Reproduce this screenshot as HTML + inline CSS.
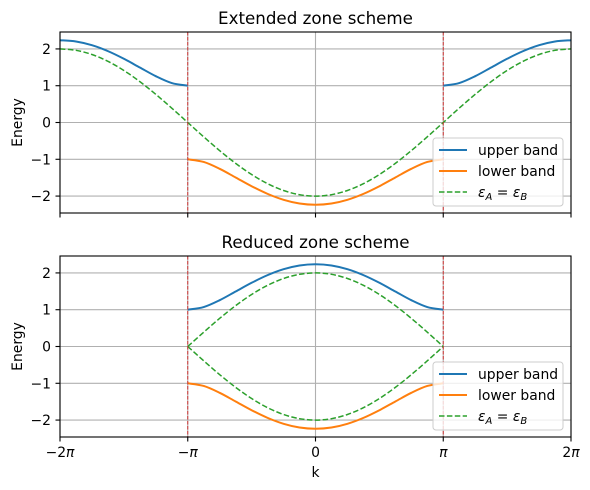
<!DOCTYPE html>
<html><head><meta charset="utf-8">
<style>
html,body{margin:0;padding:0;background:#fff;}
svg{display:block;font-family:"DejaVu Sans","Liberation Sans",sans-serif;}
</style></head>
<body>
<svg id="chart" width="590" height="490" viewBox="0 0 590 490"></svg>
<script>
// k positions in units of pi/8, from -2pi to 2pi
const kSteps = [-16,-15,-14,-13,-12,-11,-10,-9,-8,-7,-6,-5,-4,-3,-2,-1,0,1,2,3,4,5,6,7,8,9,10,11,12,13,14,15,16];
// |E| of the bands
const bandMag = [2.236,2.202,2.101,1.940,1.732,1.495,1.259,1.073,1.000,1.073,1.259,1.495,1.732,1.940,2.101,2.202,2.236,2.202,2.101,1.940,1.732,1.495,1.259,1.073,1.000,1.073,1.259,1.495,1.732,1.940,2.101,2.202,2.236];
// eps_A = eps_B dashed curve
const degenerate = [2,1.962,1.848,1.663,1.414,1.111,0.765,0.390,0,-0.390,-0.765,-1.111,-1.414,-1.663,-1.848,-1.962,-2,-1.962,-1.848,-1.663,-1.414,-1.111,-0.765,-0.390,0,0.390,0.765,1.111,1.414,1.663,1.848,1.962,2];
const yTicks = [-2,-1,0,1,2];
const xTickLabels = ["\u22122\u03c0","\u2212\u03c0","0","\u03c0","2\u03c0"];
const xTickVals = [-16,-8,0,8,16];

const NS="http://www.w3.org/2000/svg";
const svg=document.getElementById('chart');
function mk(tag,attrs,parent){const e=document.createElementNS(NS,tag);for(const k in attrs)e.setAttribute(k,attrs[k]);(parent||svg).appendChild(e);return e;}

const X0=60,X1=571,YMAX=2.46;
function xs(k){return X0+(k+16)/32*(X1-X0);}
function makeY(top,bottom){return v=>top+(YMAX-v)/(2*YMAX)*(bottom-top);}

function smoothPath(pts){
  let d="M"+pts[0][0].toFixed(2)+","+pts[0][1].toFixed(2);
  for(let i=0;i<pts.length-1;i++){
    const p0=pts[i-1]||pts[i],p1=pts[i],p2=pts[i+1],p3=pts[i+2]||pts[i+1];
    const c1=[p1[0]+(p2[0]-p0[0])/6,p1[1]+(p2[1]-p0[1])/6];
    const c2=[p2[0]-(p3[0]-p1[0])/6,p2[1]-(p3[1]-p1[1])/6];
    d+="C"+c1[0].toFixed(2)+","+c1[1].toFixed(2)+" "+c2[0].toFixed(2)+","+c2[1].toFixed(2)+" "+p2[0].toFixed(2)+","+p2[1].toFixed(2);
  }
  return d;
}
function series(g,ys,lo,hi,sign,vals,style,name){
  const pts=[];
  for(let i=0;i<kSteps.length;i++){if(kSteps[i]>=lo&&kSteps[i]<=hi)pts.push([xs(kSteps[i]),ys(sign*vals[i])]);}
  const p=mk('path',Object.assign({d:smoothPath(pts),fill:'none'},style),g);
  
  
}

const BLUE={stroke:'#1f77b4','stroke-width':2};
const ORANGE={stroke:'#ff7f0e','stroke-width':2};
const GREEN={stroke:'#2ca02c','stroke-width':1.5,'stroke-dasharray':'5.5,2.4'};

function panel(top,bottom,title,reduced,showXLabels,prefix){
  const g=mk('g',{});
  
  
  const ys=makeY(top,bottom);
  const clip=mk('clipPath',{id:prefix+'clip'},g);
  mk('rect',{x:X0,y:top,width:X1-X0,height:bottom-top},clip);
  yTicks.forEach(v=>{const l=mk('line',{x1:X0,x2:X1,y1:ys(v),y2:ys(v),stroke:'#b0b0b0','stroke-width':1.1},g);
    
    });
  xTickVals.forEach(k=>{const l=mk('line',{x1:xs(k),x2:xs(k),y1:top,y2:bottom,stroke:'#b0b0b0','stroke-width':1.1},g);
    
    });
  const cg=mk('g',{'clip-path':'url(#'+prefix+'clip)'},g);
  if(!reduced){
    series(cg,ys,-16,-8,1,bandMag,BLUE,'upper-band-left');
    series(cg,ys,8,16,1,bandMag,BLUE,'upper-band-right');
    series(cg,ys,-8,8,-1,bandMag,ORANGE,'lower-band');
    series(cg,ys,-16,16,1,degenerate,GREEN,'degenerate-curve');
  } else {
    series(cg,ys,-8,8,1,bandMag,BLUE,'upper-band');
    series(cg,ys,-8,8,-1,bandMag,ORANGE,'lower-band');
    series(cg,ys,-8,8,1,degenerate,GREEN,'degenerate-curve-lower');
    series(cg,ys,-8,8,-1,degenerate,GREEN,'degenerate-curve-upper');
  }
  [-8,8].forEach(k=>{const l=mk('line',{x1:xs(k),x2:xs(k),y1:top,y2:bottom,stroke:'#d62020','stroke-width':1,'stroke-dasharray':'3.5,1.5','stroke-opacity':0.85},g);
    
    });
  const fr=mk('rect',{x:X0,y:top,width:X1-X0,height:bottom-top,fill:'none',stroke:'#000','stroke-width':1.1},g);
  
  
  yTicks.forEach(v=>{mk('line',{x1:X0-4.5,x2:X0,y1:ys(v),y2:ys(v),stroke:'#000','stroke-width':1.1},g);
    const t=mk('text',{x:X0-9,y:ys(v)+5,'text-anchor':'end','font-size':13.9,fill:'#000'},g);
    t.textContent=(v<0?'\u2212':'')+Math.abs(v);
    
    });
  xTickVals.forEach((k,i)=>{mk('line',{x1:xs(k),x2:xs(k),y1:bottom,y2:bottom+4.5,stroke:'#000','stroke-width':1.1},g);
    if(showXLabels){const t=mk('text',{x:xs(k),y:bottom+20,'text-anchor':'middle','font-size':13.9,fill:'#000'},g);
      t.innerHTML=xTickLabels[i].replace('\u03c0','<tspan font-style="italic">\u03c0</tspan>');
      
      }});
  const tt=mk('text',{x:(X0+X1)/2,y:top-8,'text-anchor':'middle','font-size':16.7,fill:'#000'},g);
  tt.textContent=title;
  
  
  const yl=mk('text',{x:0,y:0,'text-anchor':'middle','font-size':13.9,fill:'#000',transform:'translate(22,'+((top+bottom)/2)+') rotate(-90)'},g);
  yl.textContent='Energy';
  
  
  const lx=433,ly=bottom-75;
  const lg=mk('g',{},g);
  
  
  mk('rect',{x:lx,y:ly,width:130,height:68,rx:3,fill:'#fff','fill-opacity':0.8,stroke:'#ccc','stroke-width':1},lg);
  const entries=[['upper band',BLUE],['lower band',ORANGE],[null,GREEN]];
  entries.forEach((e,i)=>{const yy=ly+12+i*21;
    const ln=mk('line',Object.assign({x1:lx+6,x2:lx+34,y1:yy,y2:yy},e[1]),lg);
    
    
    const t=mk('text',{x:lx+45,y:yy+5,'font-size':13.9,fill:'#000'},lg);
    
    
    if(e[0])t.textContent=e[0];
    else t.innerHTML='<tspan font-style="italic">\u03b5</tspan><tspan font-style="italic" font-size="10" dy="3">A</tspan><tspan dy="-3"> = </tspan><tspan font-style="italic">\u03b5</tspan><tspan font-style="italic" font-size="10" dy="3">B</tspan>';
  });
}
panel(32,213,'Extended zone scheme',false,false,'top');
panel(256,437,'Reduced zone scheme',true,true,'bottom');
const xl=mk('text',{x:(X0+X1)/2,y:477,'text-anchor':'middle','font-size':13.9,fill:'#000'});
xl.textContent='k';


</script>
</body></html>
